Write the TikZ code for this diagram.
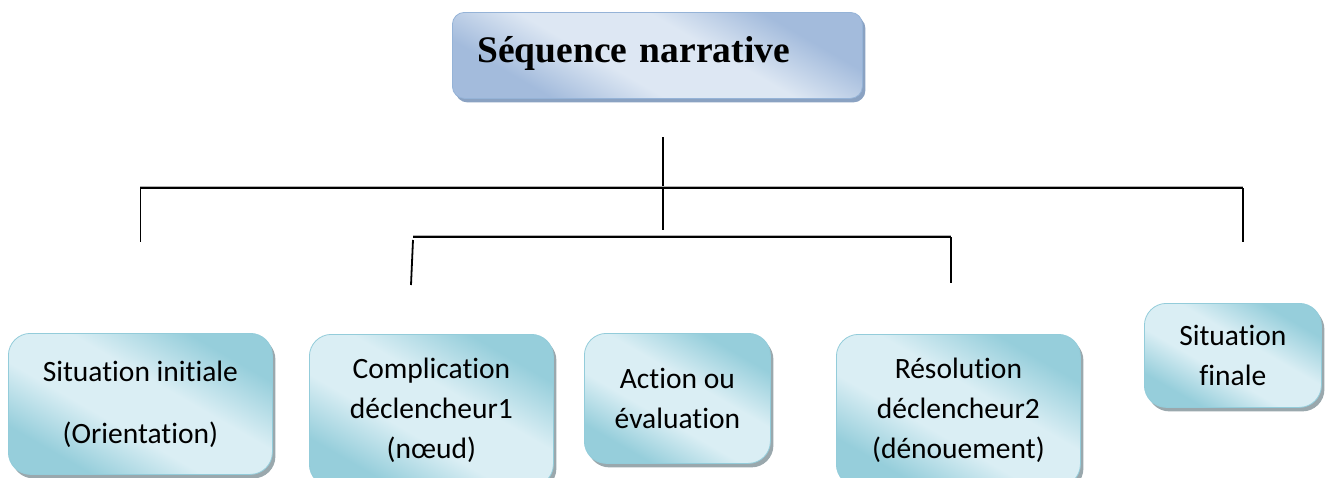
\documentclass[tikz,border=0pt]{standalone}
\usepackage{fontspec}
\setmainfont{Carlito}[Ligatures=NoCommon]
\newfontfamily\titlefont{Liberation Serif}
\usetikzlibrary{shadows}
\definecolor{titleEdge}{HTML}{95B3D7}
\definecolor{titleDark}{HTML}{A3BBDC}
\definecolor{titleLight}{HTML}{DDE7F3}
\definecolor{titleShade}{HTML}{8AA2C2}
\definecolor{stepEdge}{HTML}{93CCDA}
\definecolor{stepDark}{HTML}{96CEDB}
\definecolor{stepLight}{HTML}{DAEEF4}
\definecolor{stepShade}{HTML}{9AA8AD}
\pgfdeclarehorizontalshading{titleGlow}{100bp}{color(0bp)=(titleDark); color(28bp)=(titleDark);
  color(42bp)=(titleLight); color(58bp)=(titleLight); color(72bp)=(titleDark); color(100bp)=(titleDark)}
\pgfdeclarehorizontalshading{stepGlow}{100bp}{color(0bp)=(stepDark); color(27bp)=(stepDark);
  color(42bp)=(stepLight); color(57bp)=(stepLight); color(73bp)=(stepDark); color(100bp)=(stepDark)}
\tikzset{
  titleBox/.style={draw=titleEdge,line width=0.8pt,rounded corners=12pt,
                   shading=titleGlow,shading angle=60,
                   drop shadow={shadow xshift=3pt,shadow yshift=-4pt,fill=titleShade,opacity=1},
                   anchor=north west,text width=360pt,inner xsep=25pt,align=left,
                   minimum height=86pt,text height=26pt,text depth=12pt,
                   font=\titlefont\fontsize{37.5}{45}\selectfont\bfseries},
  stepBox/.style={draw=stepEdge,line width=0.8pt,rounded corners=22pt,
                  shading=stepGlow,shading angle=60,
                  drop shadow={shadow xshift=3pt,shadow yshift=-4pt,fill=stepShade,opacity=1},
                  anchor=north west,inner sep=0pt,align=center,
                  font=\fontsize{29.5}{40}\selectfont},
  treeLine/.style={line width=1.8pt,black},
  treeBar/.style={treeLine,preaction={draw=black!30,line width=1.2pt,
                  transform canvas={yshift=1.6pt}}},
}
\begin{document}
\begin{tikzpicture}[x=1pt,y=-1pt]
\useasboundingbox (0,0) rectangle (1326,477);

\node[titleBox] (seq) at (452,12) {Séquence narrative};

\node[stepBox,minimum width=264pt,minimum height=141pt] (initiale) at (8,333)
  {Situation initiale\\[22pt] (Orientation)};
\node[stepBox,minimum width=244pt,minimum height=152pt] (complication) at (309,334)
  {Complication\\ déclencheur1\\ (nœud)};
\node[stepBox,minimum width=186pt,minimum height=130pt] (action) at (584,333)
  {Action ou\\ évaluation};
\node[stepBox,minimum width=244pt,minimum height=152pt] (resolution) at (836,334)
  {Résolution\\ déclencheur2\\ (dénouement)};
\node[stepBox,minimum width=177pt,minimum height=104pt] (finale) at (1144,303)
  {Situation\\ finale};

% tree of the sequence, floating between the boxes
\coordinate (trunkTop) at (663,137);
\coordinate (trunkBot) at (663,230);
\coordinate (barL)  at (initiale.north |- 0,188);
\coordinate (barR)  at (1243,188);
\coordinate (dropL) at (initiale.north |- 0,242);
\coordinate (dropR) at (1243,242);
\coordinate (subL)  at (413,237);
\coordinate (subR)  at (951,237);
\coordinate (subLd) at (411,285);
\coordinate (subRd) at (951,283);

\draw[treeLine] (trunkTop) -- (trunkBot);
\draw[treeBar] (barL) -- (barR);
\draw[treeLine] (barL) -- (dropL);
\draw[treeLine] (barR) -- (dropR);
\draw[treeBar] (subL) -- (subR);
\draw[treeLine] ([yshift=-3pt]subL) -- (subLd);
\draw[treeLine] (subR) -- (subRd);

\end{tikzpicture}
\end{document}
